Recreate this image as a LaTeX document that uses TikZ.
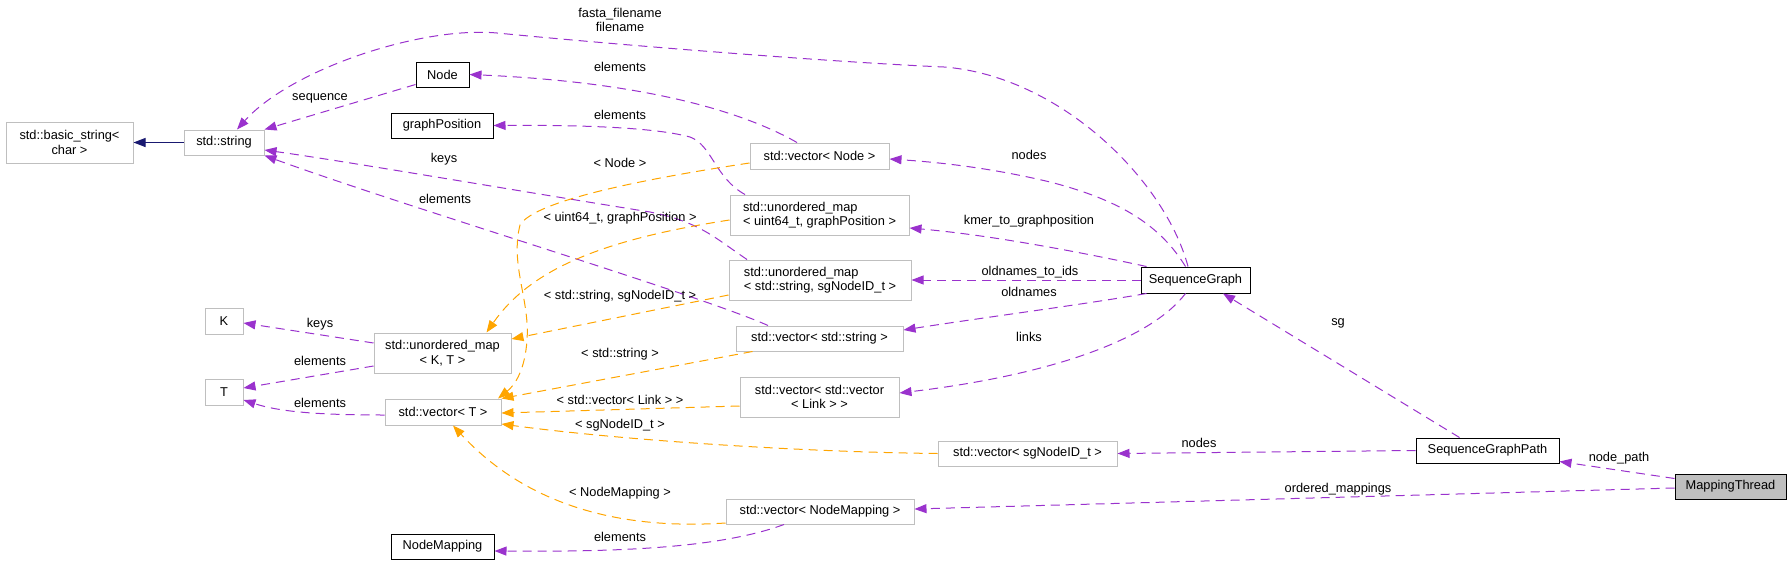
\documentclass[tikz,border=0pt]{standalone}
\usepackage{fontspec}
\setmainfont{Liberation Sans}
\usetikzlibrary{arrows.meta}
\definecolor{edgepurple}{RGB}{154,50,205}
\definecolor{edgeorange}{RGB}{255,165,0}
\definecolor{edgenavy}{RGB}{25,25,112}
\definecolor{boxgray}{RGB}{191,191,191}
\begin{document}
\begin{tikzpicture}[x=1pt,y=-1pt,
  font=\fontsize{12.8}{14.5}\selectfont,
  box/.style={draw=black, line width=1pt, inner sep=0pt, align=center, fill=white},
  extbox/.style={box, draw=boxgray},
  mem/.style={edgepurple, line width=1pt, dash pattern=on 9pt off 6pt, -{Triangle[length=12pt,width=9pt]}},
  tmpl/.style={mem, edgeorange},
  inh/.style={edgenavy, line width=1pt, -{Triangle[length=12pt,width=9pt]}},
  lbl/.style={inner sep=0pt, anchor=base, align=center}
]
\useasboundingbox (0,0) rectangle (1792,565);
% nodes
\node[extbox, minimum width=127pt, minimum height=41pt] (bstr) at (69.5,142.5) {std::basic\_string<\\char >};
\node[extbox, minimum width=80pt, minimum height=25pt] (str) at (224,142.5) {std::string};
\node[box, minimum width=53pt, minimum height=25pt] (node) at (442.5,74.5) {Node};
\node[box, minimum width=102pt, minimum height=25pt] (gp) at (442,125.5) {graphPosition};
\node[extbox, minimum width=38pt, minimum height=26pt] (K) at (224,321) {K};
\node[extbox, minimum width=38pt, minimum height=26pt] (T) at (224,392) {T};
\node[extbox, minimum width=137pt, minimum height=40pt] (umapKT) at (442.5,353) {std::unordered\_map\\< K, T >};
\node[extbox, minimum width=116pt, minimum height=26pt] (vT) at (443,412) {std::vector< T >};
\node[box, minimum width=103pt, minimum height=25pt] (nm) at (442.5,546.5) {NodeMapping};
\node[extbox, minimum width=139pt, minimum height=26pt] (vnode) at (819.5,156) {std::vector< Node >};
\node[extbox, align=left, minimum width=179pt, minimum height=40pt] (umap64) at (819.5,215) {std::unordered\_map\\< uint64\_t, graphPosition >};
\node[extbox, align=left, minimum width=182pt, minimum height=40pt] (umapstr) at (820,280) {std::unordered\_map\\< std::string, sgNodeID\_t >};
\node[box, minimum width=109pt, minimum height=26pt] (sg) at (1195.5,280) {SequenceGraph};
\node[extbox, minimum width=167pt, minimum height=25pt] (vstr) at (819.5,338.5) {std::vector< std::string >};
\node[extbox, minimum width=159pt, minimum height=40pt] (vvlink) at (819.5,397) {std::vector< std::vector\\< Link > >};
\node[extbox, minimum width=179pt, minimum height=25pt] (vsg) at (1027.5,453.5) {std::vector< sgNodeID\_t >};
\node[extbox, minimum width=188pt, minimum height=25pt] (vnm) at (820,511.5) {std::vector< NodeMapping >};
\node[box, minimum width=143pt, minimum height=25pt] (sgp) at (1487.5,450.5) {SequenceGraphPath};
\node[box, fill=boxgray, minimum width=111pt, minimum height=25pt] (mt) at (1730.5,486.5) {MappingThread};
% inheritance
\draw[inh] (str.west) -- (bstr.east);
% member edges
\draw[mem] ([yshift=3pt]node.south west) -- (str.north east);
\draw[mem] ([xshift=-7.5pt]sg.north) .. controls (1165,180) and (1060,76) .. (944,67) .. controls (830,62) and (620,45) .. (497,33) .. controls (420,26) and (290,70) .. ([xshift=13pt]str.north);
\draw[mem] ([xshift=-22.5pt]vnode.north) .. controls (740,110) and (640,82) .. (node.east);
\draw[mem] ([xshift=-74.5pt]umap64.north) .. controls (715,178) and (712,145) .. (690,137) .. controls (650,126) and (560,125) .. (gp.east);
\draw[mem] ([xshift=-73pt]umapstr.north) .. controls (715,238) and (700,222) .. (650,212) .. controls (500,188) and (350,162) .. ([yshift=-7.5pt]str.east);
\draw[mem] ([xshift=-51.5pt]vstr.north) .. controls (700,295) and (400,205) .. (str.south east);
\draw[mem] ([yshift=10pt]umapKT.west) -- ([yshift=-2pt]K.east);
\draw[mem] ([yshift=-13pt]umapKT.west) -- ([yshift=4pt]T.east);
\draw[mem] ([yshift=-3pt]vT.west) .. controls (320,415) and (280,412) .. ([yshift=-8pt]T.east);
\draw[mem] ([xshift=-36pt]vnm.south) .. controls (720,548) and (620,552) .. ([yshift=-4.5pt]nm.east);
\draw[mem] ([xshift=-10pt]sg.north) .. controls (1160,225) and (1120,200) .. (1050,182) .. controls (1000,170) and (950,163) .. ([yshift=-3pt]vnode.east);
\draw[mem] ([xshift=6pt]sg.north west) .. controls (1080,252) and (990,235) .. ([yshift=-13pt]umap64.east);
\draw[mem] (sg.west) -- (umapstr.east);
\draw[mem] ([xshift=6pt]sg.south west) .. controls (1080,305) and (980,318) .. ([yshift=8.5pt]vstr.east);
\draw[mem] ([xshift=-10pt]sg.south) .. controls (1150,340) and (1050,375) .. ([yshift=4pt]vvlink.east);
\draw[mem] ([xshift=-28pt]sgp.north) -- ([xshift=27.5pt]sg.south);
\draw[mem] (sgp.west) -- (vsg.east);
\draw[mem] ([yshift=8pt]mt.west) -- ([yshift=2pt]sgp.south east);
\draw[mem] ([yshift=-1.5pt]mt.west) -- ([yshift=2.5pt]vnm.east);
% template edges
\draw[tmpl] ([yshift=-7pt]vnode.west) .. controls (650,178) and (535,200) .. (520,225) .. controls (510,265) and (530,300) .. (527,340) .. controls (525,370) and (515,385) .. ([xshift=55pt]vT.north);
\draw[tmpl] ([yshift=-5pt]umap64.west) .. controls (600,240) and (530,270) .. ([xshift=44pt]umapKT.north);
\draw[tmpl] ([yshift=-15pt]umapstr.west) -- ([yshift=14pt]umapKT.east);
\draw[tmpl] ([xshift=17pt]vstr.south west) -- (vT.north east);
\draw[tmpl] ([yshift=-9pt]vvlink.west) -- ([yshift=-1pt]vT.east);
\draw[tmpl] (vsg.west) .. controls (800,452) and (620,440) .. ([yshift=-12pt]vT.east);
\draw[tmpl] ([yshift=1.5pt]vnm.south west) .. controls (650,528) and (540,520) .. ([xshift=10pt]vT.south);
% labels
\node[inner sep=0pt, align=center] (lfasta) at (620,20) {fasta\_filename\\filename};
\node[lbl] (lseq) at (320,100) {sequence};
\node[lbl] (lel1) at (620,71) {elements};
\node[lbl] (lel2) at (620,119) {elements};
\node[lbl] (lkeys1) at (444,162) {keys};
\node[lbl] (lel3) at (445,203) {elements};
\node[lbl] (lnode) at (620,167) {< Node >};
\node[lbl] (luint) at (620,221) {< uint64\_t, graphPosition >};
\node[lbl] (lstrsg) at (620,299) {< std::string, sgNodeID\_t >};
\node[lbl] (lstr) at (620,357) {< std::string >};
\node[lbl] (llink) at (620,404) {< std::vector< Link > >};
\node[lbl] (lsgid) at (620,428) {< sgNodeID\_t >};
\node[lbl] (lnm) at (620,496) {< NodeMapping >};
\node[lbl] (lkeys2) at (320,327) {keys};
\node[lbl] (lel4) at (320,365) {elements};
\node[lbl] (lel5) at (320,407) {elements};
\node[lbl] (lel6) at (620,541) {elements};
\node[lbl] (lnodes) at (1029,159) {nodes};
\node[lbl] (lkmer) at (1029,224) {kmer\_to\_graphposition};
\node[lbl] (loti) at (1030,275) {oldnames\_to\_ids};
\node[lbl] (lold) at (1029,296) {oldnames};
\node[lbl] (llinks) at (1029,341) {links};
\node[lbl] (lsg) at (1338,325) {sg};
\node[lbl] (lnodes2) at (1199,447) {nodes};
\node[lbl] (lnp) at (1619,461) {node\_path};
\node[lbl] (lom) at (1338,492) {ordered\_mappings};
\end{tikzpicture}
\end{document}
